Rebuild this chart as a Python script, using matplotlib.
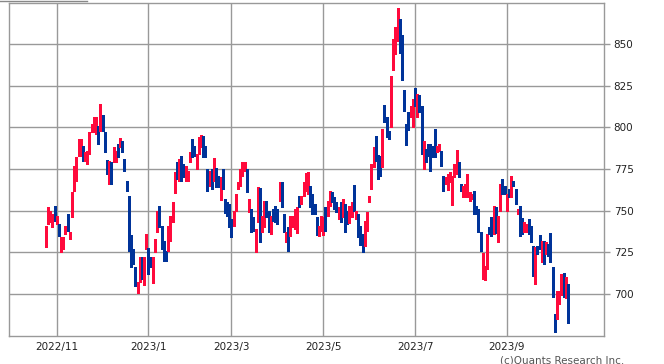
import matplotlib
matplotlib.use("Agg")
import matplotlib.pyplot as plt
from matplotlib.lines import Line2D

opens = [729, 743, 744, 742, 752, 744, 741, 728, 729, 737, 741, 734, 746, 762, 769, 783, 784, 788, 781, 779,
         785, 798, 798, 797, 800, 799, 807, 797, 780, 766, 778, 779, 780, 789.5, 789, 790, 780, 767.5, 758.5, 735,
         726.5, 715.5, 701.5, 709.5, 716.5, 706.5, 727.5, 727, 721.5, 707.5, 726.5, 737.5, 752.5, 740.5, 731.5, 725.5, 727.5, 733.5, 744.5, 761.5,
         778, 771, 778, 777, 769, 770, 779.5, 792.5, 788, 775.5, 784.5, 789, 794, 788, 774.5, 765.5, 774, 768.5, 774.5, 770.5,
         766.5, 774.5, 756.5, 754.5, 753.5, 744.5, 742.5, 751.5, 763.5, 765.5, 771.5, 774.5, 774.5, 749.5, 750.5, 745.5, 733.5, 743.5, 763, 738.5,
         740.5, 755.5, 749.5, 737.5, 749.5, 752.5, 750.5, 756.5, 766.5, 747.5, 732.5, 739.5, 736.5, 741.5, 740.5, 737.5, 758.5, 755.5, 759.5, 762.5,
         760.5, 764.5, 759.5, 753.5, 745.5, 736.5, 743.5, 741.5, 751.5, 748.5, 753.5, 761, 757.5, 754.5, 746.5, 754.5, 747.5, 753.5, 749.5, 743.5,
         747.5, 758.5, 746.5, 747.5, 740.5, 735.5, 730.5, 739.5, 756.5, 763.5, 776.5, 788, 783, 781.5, 776.5, 808.5, 805.5, 797.5, 801, 835.5,
         844.5, 853.5, 858.5, 855, 821.5, 801.5, 808.5, 807.5, 801.5, 822.5, 814.5, 818.5, 802.5, 775.5, 786.5, 789, 789.5, 788.5, 796.5, 786,
         787, 785.5, 770.5, 766.5, 765.5, 767.5, 767.5, 770.5, 772.5, 778.5, 765.5, 758.5, 758.5, 758.5, 756.5, 757.5, 761.5, 752.5, 750.5, 736.5,
         715.5, 712, 715.5, 739.5, 745.5, 736.5, 748.5, 733.5, 750.5, 768.5, 764.5, 750.5, 762, 758.5, 767.5, 762.5, 748.5, 752.5, 745, 737.5,
         737.5, 744.5, 740.5, 728.5, 707.5, 727.5, 732.5, 720.5, 731.5, 725.5, 729.5, 735.5, 714.5, 686.5, 686.5, 698.5, 705.5, 709.5, 698.5, 705.5]
highs = [741, 752, 750, 748, 753, 747, 742, 734, 734, 741, 748, 737, 761.5, 777, 782, 793, 793, 789, 785, 786,
         797, 802, 806, 806, 801, 814, 807.5, 797.5, 780.5, 780, 779, 788, 786, 790, 793.5, 792, 781, 768, 759, 735.5,
         727, 716, 707, 722.5, 722, 722, 736, 727.5, 722, 722, 733, 750, 753, 741, 732, 726, 741, 747, 755, 773,
         779, 781, 783, 778, 777, 774, 785, 793, 789, 784, 794, 795.5, 795, 789, 775, 774, 775, 781.5, 775.5, 771,
         770, 775, 757, 755, 754, 745, 750, 760, 767, 775, 779, 779, 775, 757, 751, 746, 739, 764, 763.5, 747,
         756, 756, 750, 747, 751, 753, 751, 767, 767, 748, 737, 740.5, 747, 747, 751, 752, 759, 759, 767, 772.5,
         773, 765, 760, 754, 746, 741, 747, 746, 752, 756, 762, 761.5, 758, 755, 752, 755, 757, 754, 750, 753,
         755, 765.5, 750, 748, 741, 736, 744, 749, 759, 778, 788, 795, 783.5, 783, 799, 813.5, 806, 798, 831, 853,
         860, 871.5, 865, 855.5, 822.5, 802, 809.5, 813, 817, 823.5, 820, 819.5, 813, 792, 787, 790, 790, 789, 799, 789,
         790, 786, 771, 770, 772, 773, 771, 778, 786.5, 779, 766, 765, 766, 772, 761, 760, 762, 753, 751, 737,
         724.5, 717, 736, 740, 746, 753, 752, 747, 766, 769, 765, 760, 763, 771, 768, 763, 751, 753, 745.5, 743,
         742, 745, 741, 729, 728, 729, 735.5, 732, 732, 731, 730, 736.5, 716, 688, 702, 702, 712, 712.5, 710, 706]
lows = [728, 742, 743, 740, 744, 742, 735, 725, 727, 736, 738, 733, 746, 762, 768, 783, 783, 780, 780, 778,
        784, 797, 797, 796, 790, 798, 798, 785, 772, 766, 766, 779, 779, 782, 788, 785, 774, 762, 726, 716,
        718, 705, 700.5, 707, 709, 705.5, 727, 712, 716, 706.5, 725.5, 737, 740, 727, 720, 720, 726, 732, 743, 760.5,
        769, 768, 768, 770.5, 768, 768, 779, 782, 783, 775, 784, 788.5, 782.5, 782, 762, 765, 763, 768, 764, 764,
        756.5, 763, 748.5, 747, 740.5, 734.5, 741, 750, 763, 765, 771, 774, 761, 749, 737.5, 738, 725.5, 743, 731.5, 737,
        740, 746, 737, 736, 744, 743, 742, 756, 752, 737, 731, 726, 735, 740, 739, 736.5, 752.5, 754, 759, 762,
        760, 752.5, 748, 748, 735.5, 735, 738, 735.5, 738, 747, 753, 755, 751, 749, 745, 743, 746.5, 737.5, 742, 742.5,
        746.5, 750, 745, 734, 729.5, 725.5, 729, 738, 755.5, 763, 776, 780, 769, 771, 776, 803, 794.5, 793, 800.5, 834.5,
        844, 852, 844.5, 828.5, 810, 789.5, 798.5, 806, 800.5, 813, 806, 809, 784, 775, 779, 783, 774, 782.5, 782, 785,
        786, 777, 762, 766, 762.5, 767, 753.5, 770, 772, 770, 762, 758, 758, 758, 756, 757, 748, 748, 737, 726,
        709, 708.5, 715, 736, 735, 736, 736.5, 731, 750, 760, 760, 750, 758, 758, 765, 754, 748, 735, 736, 737,
        737, 736, 731.5, 711, 706, 724, 727, 719, 718, 724, 723, 719, 698, 677.5, 685, 694, 699.5, 698.5, 697.5, 682.5]
closes = [737, 749, 748, 746, 745, 746, 737, 733, 733, 741, 739, 735.5, 761, 776, 780, 792, 791, 781, 784, 785,
          797, 801, 805, 803, 791, 806, 799, 786, 773, 779.5, 772, 787.5, 785, 784.5, 792.5, 786, 776, 762.5, 726.5, 721.5,
          721.5, 707, 706.5, 720.5, 711.5, 721.5, 735, 714.5, 718, 721.5, 732.5, 749.5, 743.5, 728.5, 721.5, 721.5, 740.5, 746.5, 754.5, 772.5,
          770, 777, 770, 771, 776, 773, 784.5, 783.5, 783.5, 782.5, 793.5, 793.5, 784, 782.5, 762.5, 773.5, 763.5, 780.5, 764.5, 764.5,
          768.5, 764.5, 749.5, 748.5, 742.5, 735.5, 748.5, 759.5, 766.5, 774.5, 774.5, 778.5, 761.5, 756.5, 740, 739.5, 738.5, 763.5, 732, 746.5,
          755.5, 747.5, 738.5, 746.5, 745.5, 744.5, 743.5, 766.5, 753.5, 738.5, 735.5, 726.5, 746.5, 745.5, 750.5, 751.5, 753.5, 758.5, 766.5, 766.5,
          766.5, 753.5, 749.5, 749.5, 736.5, 740.5, 746.5, 745.5, 740.5, 755.5, 761, 756.5, 752.5, 750.5, 751.5, 744.5, 756.5, 738.5, 743.5, 752.5,
          753.5, 753.5, 749.5, 735.5, 730.5, 726.5, 743.5, 748.5, 758.5, 777.5, 787.5, 781, 769.5, 772.5, 798.5, 804.5, 798.5, 794.5, 830.5, 852.5,
          858.5, 858.5, 846.5, 829.5, 811.5, 795.5, 799.5, 812.5, 816.5, 818.5, 818.5, 811.5, 784.5, 791.5, 779.5, 783.5, 774.5, 783, 782.5, 788.5,
          789, 777.5, 762.5, 769.5, 771.5, 772.5, 770.5, 777.5, 778.5, 770.5, 762.5, 764.5, 765.5, 771.5, 760.5, 759.5, 748.5, 748.5, 737.5, 726.5,
          721.5, 716, 735.5, 736.5, 735.5, 752.5, 743.5, 746.5, 765.5, 760.5, 760.5, 759.5, 759, 768.5, 765.5, 754.5, 750.5, 735.5, 736.5, 742.5,
          741.5, 736.5, 732.5, 712.5, 727.5, 725.5, 727.5, 731.5, 721.5, 730.5, 724.5, 720.5, 699.5, 679.5, 701.5, 701.5, 708.5, 699.5, 708.5, 683.5]

tick_idx = [5, 47, 85, 127, 169, 211]
tick_labels = ["2022/11", "2023/1", "2023/3", "2023/5", "2023/7", "2023/9"]
y_ticks = [700, 725, 750, 775, 800, 825, 850]

UP = "#ff0a3c"
DOWN = "#003399"
GRID = "#999999"

fig = plt.figure(figsize=(6.64, 3.64), dpi=100)
ax = fig.add_axes([9.3 / 664, 28 / 364, (604 - 9.3) / 664, (336 - 2.7) / 364])

xs = list(range(len(opens)))
colors = [UP if c >= o else DOWN for o, c in zip(opens, closes)]
ax.vlines(xs, lows, highs, colors=colors, linewidth=1.0, zorder=3, antialiased=False)
bottoms = [min(o, c) for o, c in zip(opens, closes)]
heights = [max(abs(c - o), 0.8) for o, c in zip(opens, closes)]
ax.bar(xs, heights, bottom=bottoms, width=0.8, color=colors, linewidth=0, zorder=4,
       antialiased=False)

ax.set_xlim(-16.7, 255.5)
ax.set_ylim(674.8, 874.8)
ax.set_xticks(tick_idx)
ax.set_xticklabels(tick_labels)
ax.set_yticks(y_ticks)
ax.yaxis.tick_right()
ax.grid(True, color=GRID, linewidth=1.0, zorder=0)
for s in ax.spines.values():
    s.set_color(GRID)
    s.set_linewidth(1.0)
ax.tick_params(axis="y", colors=GRID, labelcolor="#222222", length=4, width=1, pad=3, labelsize=7.5)
ax.tick_params(axis="x", colors=GRID, labelcolor="#222222", length=0, pad=4, labelsize=7.5)

fig.text(624 / 664, 0.002, "(c)Quants Research Inc.", ha="right", va="baseline",
         fontsize=7.5, color="#555555")
fig.add_artist(Line2D([0, 87 / 664], [1 - 1 / 364, 1 - 1 / 364], color="#888888", linewidth=1))

fig.savefig("out.png", dpi=100)
